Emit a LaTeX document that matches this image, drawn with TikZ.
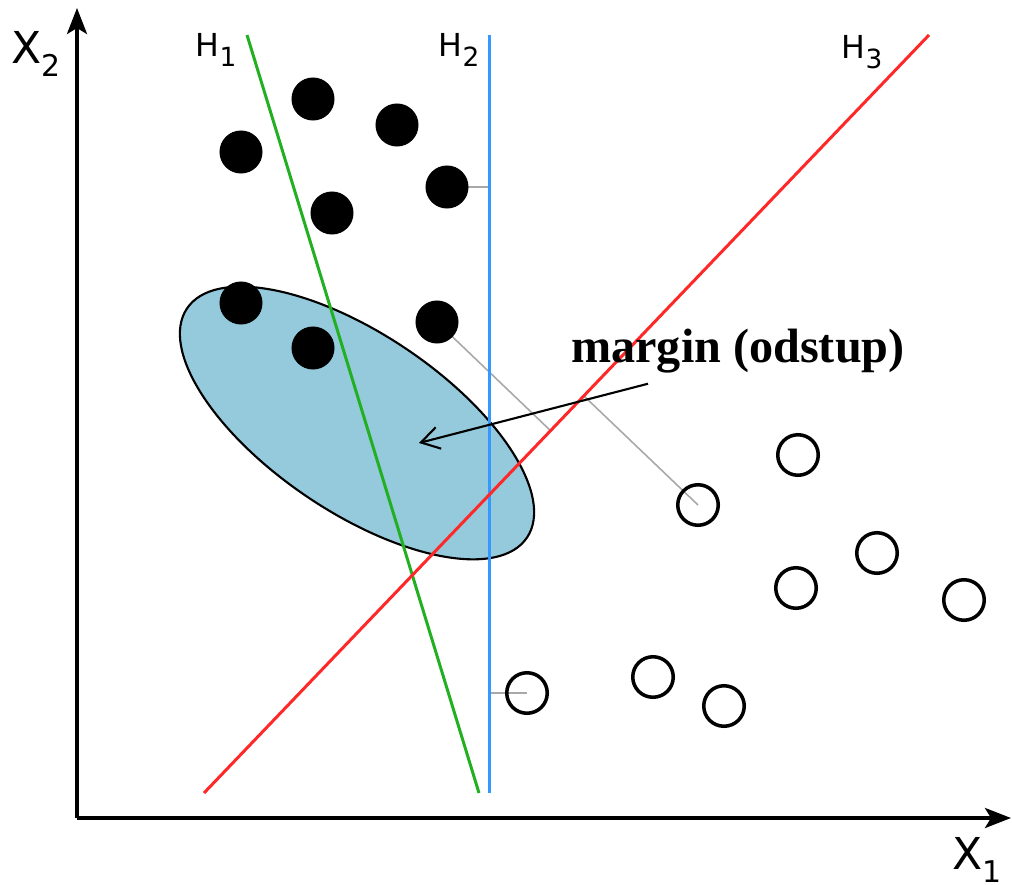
\documentclass[tikz,border=0pt]{standalone}
\usepackage{fontspec}
\setmainfont{DejaVu Sans}
\newfontfamily\marginfont{Liberation Serif}
\usetikzlibrary{calc,arrows.meta}

\definecolor{hone}{HTML}{22B022}
\definecolor{htwo}{HTML}{3399FF}
\definecolor{hthree}{HTML}{FF2828}
\definecolor{blobfill}{HTML}{94CADB}
\definecolor{gapline}{HTML}{A8A8A8}

\newcommand{\sublabel}[3]{#1\raisebox{-0.3em}{\fontsize{#3}{#3}\selectfont #2}}

\begin{document}
\begin{tikzpicture}[x=0.01cm,y=-0.01cm,
   blk/.style={circle,fill=black,minimum size=0.43cm,inner sep=0pt},
   wht/.style={circle,draw=black,line width=1pt,minimum size=0.405cm,inner sep=0pt},
   gap/.style={gapline,line width=0.45pt},
   hyp/.style={line width=0.85pt},
   hlab/.style={inner sep=0pt,font=\fontsize{9}{10}\selectfont},
   xlab/.style={inner sep=0pt,font=\fontsize{12.5}{14}\selectfont},
   axis/.style={line width=1pt,-{Stealth[length=0.26cm,width=0.2cm,inset=0.06cm]}}]
  \useasboundingbox (0,0) rectangle (1012,885);
  % pixel grid, y runs down

  % ---- sample points ----
  \foreach \n/\x/\y in {b1/313/99,b2/397/125,b3/241/152,b4/447/187,
                        b5/332/213,b6/241/303,b7/313/348,b8/437/322,
                        w1/798/455,w2/698/505,w3/877/553,w4/796/588,
                        w5/964/600,w6/527/693,w7/653/677,w8/724/706}
    \coordinate (\n) at (\x,\y);

  % ---- hyperplane ends ----
  \coordinate (h1a) at (247,35);  \coordinate (h1b) at (479,793);
  \coordinate (h2a) at (489,35);  \coordinate (h2b) at (489,793);
  \coordinate (h3a) at (204,793); \coordinate (h3b) at (929,35);

  % ---- shaded region ----
  \draw[fill=blobfill,line width=0.6pt,rotate around={-34:(357,423)}]
    (357,423) ellipse [x radius=205,y radius=89];

  % ---- distances to H2 and H3 ----
  \draw[gap] (b4) -- (b4 -| h2a);
  \draw[gap] (w6) -- (w6 -| h2a);
  \coordinate (f8) at ($(h3a)!(b8)!(h3b)$);
  \coordinate (f2) at ($(h3a)!(w2)!(h3b)$);
  \draw[gap] (b8) -- (f8);
  \draw[gap] (w2) -- (f2);

  % ---- hyperplanes ----
  \draw[hyp,hone] (h1a) -- (h1b);
  \draw[hyp,htwo] (h2a) -- (h2b);
  \draw[hyp,hthree] (h3a) -- (h3b);
  \node[hlab] (l1) at (216,50) {\sublabel{H}{1}{7.5}};
  \node[hlab] (l2) at (459,50) {\sublabel{H}{2}{7.5}};
  \node[hlab] (l3) at (862,52) {\sublabel{H}{3}{7.5}};

  % ---- axes ----
  \coordinate (o) at (77,818);
  \coordinate (ytop) at (77,8);
  \coordinate (xend) at (1011,818);
  \draw[axis] (o) -- (ytop);
  \draw[axis] (o) -- (xend);
  \node[xlab] (x2) at (36,54) {\sublabel{X}{2}{8.5}};
  \node[xlab] (x1) at (977,860) {\sublabel{X}{1}{8.5}};

  % ---- classes ----
  \foreach \n in {b1,b2,b3,b4,b5,b6,b7,b8}
    \node[blk] (\n dot) at (\n) {};
  \foreach \n in {w1,w2,w3,w4,w5,w6,w7,w8}
    \node[wht] (\n dot) at (\n) {};

  % ---- margin label ----
  \node[inner sep=0pt,font=\marginfont\bfseries\fontsize{13.7}{16}\selectfont]
    (mrg) at (738,351) {margin (odstup)};
  \coordinate (aim) at (419,443);
  \draw[line width=0.6pt,-{Straight Barb[length=0.18cm,width=0.22cm]}]
    ([shift={(-90,10)}]mrg.south) -- (aim);
\end{tikzpicture}
\end{document}
